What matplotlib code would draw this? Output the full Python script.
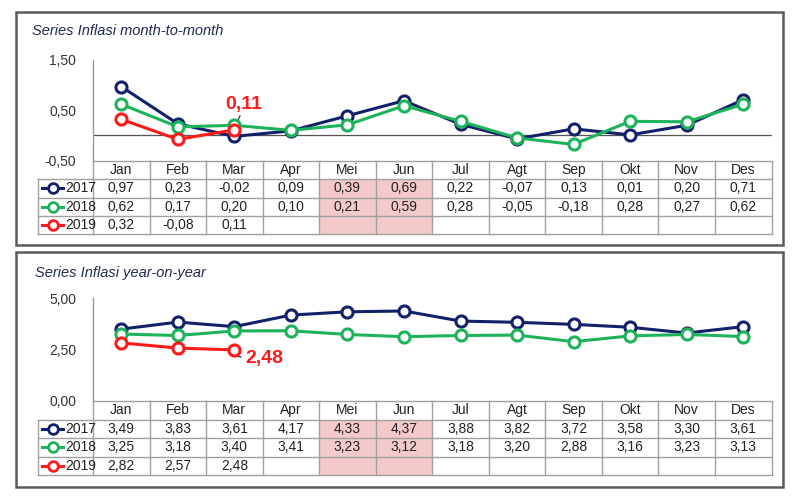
import matplotlib
matplotlib.use("Agg")
import matplotlib.pyplot as plt
from matplotlib.patches import Rectangle
from matplotlib.lines import Line2D

plt.rcParams['font.family'] = ['Liberation Sans Narrow', 'Liberation Sans', 'DejaVu Sans']

months = ["Jan", "Feb", "Mar", "Apr", "Mei", "Jun", "Jul", "Agt", "Sep", "Okt", "Nov", "Des"]
years = ["2017", "2018", "2019"]

mtm_2017 = [0.97, 0.23, -0.02, 0.09, 0.39, 0.69, 0.22, -0.07, 0.13, 0.01, 0.20, 0.71]
mtm_2018 = [0.62, 0.17, 0.20, 0.10, 0.21, 0.59, 0.28, -0.05, -0.18, 0.28, 0.27, 0.62]
mtm_2019 = [0.32, -0.08, 0.11]

yoy_2017 = [3.49, 3.83, 3.61, 4.17, 4.33, 4.37, 3.88, 3.82, 3.72, 3.58, 3.30, 3.61]
yoy_2018 = [3.25, 3.18, 3.40, 3.41, 3.23, 3.12, 3.18, 3.20, 2.88, 3.16, 3.23, 3.13]
yoy_2019 = [2.82, 2.57, 2.48]

mtm_ticks = [-0.5, 0.5, 1.5]
yoy_ticks = [0.0, 2.5, 5.0]

colors = ["#13206a", "#1db35a", "#ff1a1a"]
shade_cols = [4, 5]

W, H = 800, 500
fig = plt.figure(figsize=(8, 5), dpi=100)
bg = fig.add_axes([0, 0, 1, 1])
bg.set_xlim(0, W)
bg.set_ylim(H, 0)
bg.axis("off")

def fmt(v):
    return f"{v:.2f}".replace(".", ",")

X0, X1 = 93, 771.5
CW = (X1 - X0) / 12
LEG_X = 38

def panel(box, title, title_xy, ax_top, ax_bot, ylim, ticks, series, tbl_top, row_h, zero_line, annot):
    bx0, by0, bx1, by1 = box
    bg.add_patch(Rectangle((bx0, by0), bx1 - bx0, by1 - by0, fill=False,
                           edgecolor="#5a5a5a", lw=1.8, zorder=1))
    bg.text(title_xy[0], title_xy[1], title, style="italic", fontsize=10.5,
            color="#1f2a55", va="center", ha="left",
            family=['Liberation Sans', 'DejaVu Sans'])
    ax = fig.add_axes([X0 / W, 1 - ax_bot / H, (X1 - X0) / W, (ax_bot - ax_top) / H])
    ax.set_xlim(0, 12)
    ax.set_ylim(*ylim)
    ax.patch.set_alpha(0)
    for s in ["top", "right", "bottom"]:
        ax.spines[s].set_visible(False)
    ax.spines["left"].set_color("#9a9a9a")
    ax.spines["left"].set_linewidth(1.0)
    ax.set_xticks([])
    ax.set_yticks(ticks)
    ax.set_yticklabels([fmt(t) for t in ticks], fontsize=10, color="#333333")
    ax.tick_params(axis="y", length=0, pad=12)
    if zero_line:
        ax.axhline(0, color="#555555", lw=0.9, zorder=1)
    for vals, c in zip(series, colors):
        xs = [i + 0.5 for i in range(len(vals))]
        ax.plot(xs, vals, color=c, lw=2.2, marker="o", ms=8, mfc="white",
                mec=c, mew=2.2, zorder=3, clip_on=False)
    # annotation
    val, (tx, ty), lead = annot
    bg.text(tx, ty, fmt(val), color="#ff1a1a", fontsize=14, fontweight="bold",
            ha="left", va="center", family=['Liberation Sans Narrow', 'Liberation Sans', 'DejaVu Sans'])
    bg.add_line(Line2D(lead[0], lead[1], color="#333333", lw=0.9, zorder=5))

    # table
    rows_y = [tbl_top + k * row_h for k in range(5)]
    # shaded cells
    for c in shade_cols:
        bg.add_patch(Rectangle((X0 + c * CW, rows_y[1]), CW, 3 * row_h,
                               facecolor="#f3c9c9", edgecolor="none", zorder=0.5))
    lc = "#a0a0a0"
    # horizontal lines
    bg.add_line(Line2D([X0, X1], [rows_y[0]] * 2, color=lc, lw=1))
    for k in range(1, 5):
        bg.add_line(Line2D([LEG_X, X1], [rows_y[k]] * 2, color=lc, lw=1))
    # vertical lines
    for c in range(13):
        x = X0 + c * CW
        bg.add_line(Line2D([x, x], [rows_y[0], rows_y[4]], color=lc, lw=1))
    bg.add_line(Line2D([LEG_X, LEG_X], [rows_y[1], rows_y[4]], color=lc, lw=1))
    # header
    for i, m in enumerate(months):
        bg.text(X0 + (i + 0.5) * CW, (rows_y[0] + rows_y[1]) / 2, m, ha="center",
                va="center", fontsize=10, color="#222222")
    # rows
    for r, (vals, c, yr) in enumerate(zip(series, colors, years)):
        yc = (rows_y[r + 1] + rows_y[r + 2]) / 2
        bg.add_line(Line2D([42, 63], [yc, yc], color=c, lw=2.2, zorder=3))
        bg.add_line(Line2D([53], [yc], marker="o", ms=7, mfc="white", mec=c, mew=2, zorder=4))
        bg.text(65, yc, yr, ha="left", va="center", fontsize=10, color="#222222")
        for i, v in enumerate(vals):
            bg.text(X0 + (i + 0.5) * CW, yc, fmt(v), ha="center", va="center",
                    fontsize=10, color="#222222")
    return ax

panel((16, 12, 783, 245), "Series Inflasi month-to-month", (32, 31), 60, 160.5,
      (-0.5, 1.5), mtm_ticks, [mtm_2017, mtm_2018, mtm_2019], 161, 18.25, True,
      (mtm_2019[2], (225, 104), ([235, 240], [126, 116])))

panel((16, 252, 783, 487), "Series Inflasi year-on-year", (35, 273), 298, 401,
      (0.0, 5.0), yoy_ticks, [yoy_2017, yoy_2018, yoy_2019], 401, 18.5, False,
      (yoy_2019[2], (245, 359), ([236, 236, 241], [351, 356, 357])))

fig.savefig("out.png", dpi=100)
